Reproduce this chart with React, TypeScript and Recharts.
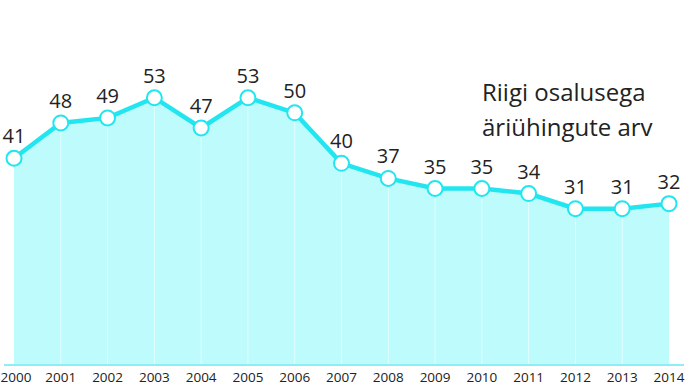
import React from 'react';
import { AreaChart, Area, XAxis, YAxis, ReferenceLine, LabelList } from 'recharts';

const years = ['2000', '2001', '2002', '2003', '2004', '2005', '2006', '2007', '2008', '2009', '2010', '2011', '2012', '2013', '2014'];
const companies = [41, 48, 49, 53, 47, 53, 50, 40, 37, 35, 35, 34, 31, 31, 32];

const data = years.map((year, i) => ({ year, value: companies[i] }));

const LINE = '#22e6ef';
const FILL = '#bdfbfd';
const FONT = '"Open Sans", "DejaVu Sans", sans-serif';
const WIDTH = 685;

// keep the end labels inside the picture
const YearTick = (props: any) => {
  const { x, y, payload } = props;
  const half = 16;
  const cx = Math.min(Math.max(x, half), WIDTH - half);
  return (
    <text x={cx} y={y} dy={8} textAnchor="middle" fill="#222" fontSize={13.5} fontFamily={FONT}>
      {payload.value}
    </text>
  );
};

const App: React.FC = () => {
  return (
    <div style={{ position: 'fixed', left: 0, top: 0, width: WIDTH, height: 387, background: '#fff', fontFamily: FONT }}>
      <AreaChart width={WIDTH} height={387} data={data} margin={{ top: 12, right: 16, bottom: 0, left: 14 }}>
        <XAxis
          dataKey="year"
          axisLine={false}
          tickLine={false}
          interval={0}
          tick={<YearTick />}
          tickMargin={3}
          height={22}
        />
        <YAxis hide domain={[0, 70]} />
        <Area
          type="linear"
          dataKey="value"
          stroke={LINE}
          strokeWidth={4.5}
          fill={FILL}
          fillOpacity={1}
          isAnimationActive={false}
          dot={{ r: 7.5, fill: '#fff', stroke: LINE, strokeWidth: 2, fillOpacity: 1 }}
          activeDot={false}
        >
          <LabelList dataKey="value" position="top" offset={15} fill="#222" fontSize={20} fontFamily={FONT} />
        </Area>
        {years.slice(1, -1).map((y) => (
          <ReferenceLine key={y} x={y} stroke="#ffffff" strokeOpacity={0.6} strokeWidth={1} />
        ))}
      </AreaChart>
      <div style={{ position: 'absolute', left: 4, top: 364, width: 680, height: 2, background: '#8eeef3' }} />
      <div
        style={{
          position: 'absolute',
          left: 482,
          top: 74,
          fontSize: 24,
          lineHeight: '35px',
          color: '#222',
          fontFamily: FONT,
        }}
      >
        Riigi osalusega
        <br />
        äriühingute arv
      </div>
    </div>
  );
};

export default App;
